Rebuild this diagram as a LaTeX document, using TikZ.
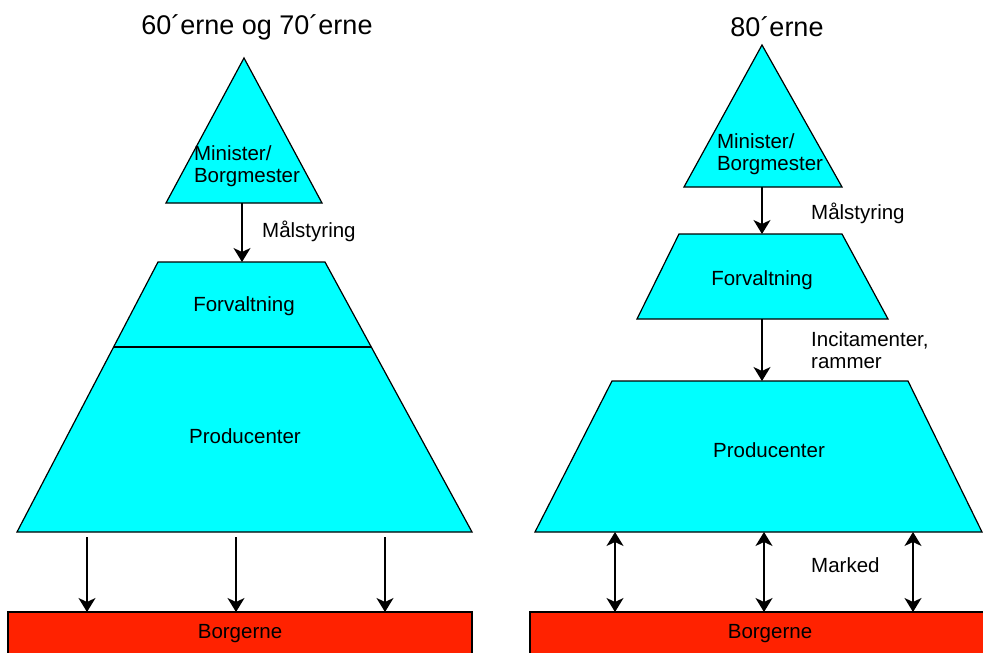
\documentclass[tikz,border=0pt]{standalone}
\usepackage{fontspec}
\setmainfont{Liberation Sans}
\usetikzlibrary{arrows.meta}
\definecolor{cyanfill}{HTML}{00FFFF}
\definecolor{redfill}{HTML}{FF2200}
\tikzset{
  shapebox/.style={draw=black, line width=1.2pt, fill=cyanfill},
  citizens/.style={draw=black, line width=1.2pt, fill=redfill},
  lbl/.style={font=\fontsize{20.5}{22}\selectfont, inner sep=0pt},
  sidelbl/.style={font=\fontsize{20.5}{22}\selectfont, inner sep=0pt, anchor=west, align=left},
  ttl/.style={font=\fontsize{27}{30}\selectfont, inner sep=0pt},
  arr/.style={line width=1.5pt, -{Stealth[length=14pt,width=17pt,inset=4pt]}},
  darr/.style={line width=1.5pt, {Stealth[length=14pt,width=17pt,inset=4pt]}-{Stealth[length=14pt,width=17pt,inset=4pt]}}
}
\begin{document}
\begin{tikzpicture}[x=1pt,y=-1pt]
\useasboundingbox (0,0) rectangle (983,653);
\clip (0,0) rectangle (983,653);
\fill[white] (0,0) rectangle (983,653);

% ---------- left diagram ----------
\node[ttl] (t1) at (257,27) {60´erne og 70´erne};
\draw[shapebox] (244,58) -- (322,203) -- (166,203) -- cycle;
\node[lbl, align=left] (min1) at (247,166) {Minister/\\Borgmester};
\draw[shapebox] (158,262) -- (325,262) -- (472,532) -- (17,532) -- cycle;
\draw[line width=1.2pt] (114,347) -- (371,347);
\node[lbl] (forv1) at (244,306) {Forvaltning};
\node[lbl] (prod1) at (245,436) {Producenter};
\draw[citizens] (8,612) rectangle (472,670);
\node[lbl] (borg1) at (240,634) {Borgerne};

\coordinate (a1s) at (242,203);
\coordinate (a1e) at (242,262);
\draw[arr] (a1s) -- (a1e);
\node[sidelbl] (ms1) at (262,231) {Målstyring};

\foreach \x [count=\i] in {87,236,385}{
  \coordinate (b\i s) at (\x,537);
  \coordinate (b\i e) at (\x,612);
  \draw[arr] (b\i s) -- (b\i e);
}

% ---------- right diagram ----------
\node[ttl] (t2) at (777,27) {80´erne};
\draw[shapebox] (762,45) -- (842,187) -- (684,187) -- cycle;
\node[lbl, align=left] (min2) at (770,154) {Minister/\\Borgmester};
\draw[shapebox] (679,234) -- (842,234) -- (888,319) -- (637,319) -- cycle;
\node[lbl] (forv2) at (762,280) {Forvaltning};
\draw[shapebox] (612,381) -- (908,381) -- (982,532) -- (535,532) -- cycle;
\node[lbl] (prod2) at (769,450) {Producenter};
\draw[citizens] (530,612) rectangle (990,670);
\node[lbl] (borg2) at (770,634) {Borgerne};

\coordinate (c1s) at (762,187);
\coordinate (c1e) at (762,234);
\draw[arr] (c1s) -- (c1e);
\node[sidelbl] (ms2) at (811,213) {Målstyring};

\coordinate (c2s) at (762,319);
\coordinate (c2e) at (762,381);
\draw[arr] (c2s) -- (c2e);
\node[sidelbl] (inc) at (811,350) {Incitamenter,\\rammer};

\foreach \x [count=\i] in {615,764,913}{
  \coordinate (d\i s) at (\x,532);
  \coordinate (d\i e) at (\x,612);
  \draw[darr] (d\i s) -- (d\i e);
}
\node[sidelbl] (mk) at (811,565) {Marked};
\end{tikzpicture}
\end{document}
